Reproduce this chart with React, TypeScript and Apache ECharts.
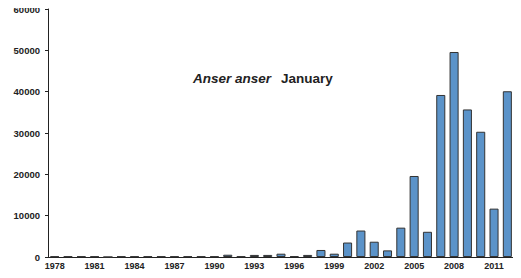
import React, { useEffect, useRef } from "react";
import * as echarts from "echarts";

const years: string[] = [];
for (let y = 1978; y <= 2012; y++) years.push(String(y));

const counts = [
  150, 150, 150, 150, 0, 150, 150, 150, 150, 150, 150, 150, 150,
  550, 150, 500, 500, 800, 200, 500, 1700, 800, 3500, 6400, 3700,
  1600, 7100, 19600, 6100, 39200, 49600, 35700, 30300, 11700, 40100,
];

const yTicks = { min: 0, max: 60000, interval: 10000 };

export default function App() {
  const ref = useRef<HTMLDivElement>(null);
  useEffect(() => {
    if (!ref.current) return;
    const chart = echarts.init(ref.current, null, { renderer: "svg" });
    chart.setOption({
      animation: false,
      textStyle: { fontFamily: "Liberation Sans, Arial, sans-serif" },
      grid: { left: 48, top: 9, right: 7, bottom: 21 },
      title: {
        text: "{i|Anser anser}  {b|January}",
        left: 188,
        top: 64,
        textStyle: {
          rich: {
            i: { fontStyle: "italic", fontWeight: "bold", fontSize: 13.5, color: "#222", fontFamily: "Liberation Sans, Arial, sans-serif" },
            b: { fontWeight: "bold", fontSize: 13.5, color: "#222", fontFamily: "Liberation Sans, Arial, sans-serif" },
          },
        },
      },
      xAxis: {
        type: "category",
        data: years,
        axisLine: { lineStyle: { color: "#222", width: 1 } },
        axisTick: { interval: 0, length: 3, lineStyle: { color: "#222" } },
        axisLabel: { interval: 2, fontSize: 9, fontWeight: "bold", color: "#222", margin: 4 },
      },
      yAxis: {
        type: "value",
        min: yTicks.min,
        max: yTicks.max,
        interval: yTicks.interval,
        splitLine: { show: false },
        axisLine: { show: true, lineStyle: { color: "#222", width: 1 } },
        axisTick: { show: true, length: 3, lineStyle: { color: "#222" } },
        axisLabel: { fontSize: 9.5, fontWeight: "bold", color: "#222", margin: 8, formatter: (v: number) => String(v) },
      },
      series: [
        {
          type: "bar",
          data: counts,
          barCategoryGap: "32%",
          itemStyle: { color: "#5b93c9", borderColor: "#333", borderWidth: 1 },
        },
      ],
    });
    return () => chart.dispose();
  }, []);
  return <div ref={ref} style={{ width: 521, height: 278, margin: -8 }} />;
}
